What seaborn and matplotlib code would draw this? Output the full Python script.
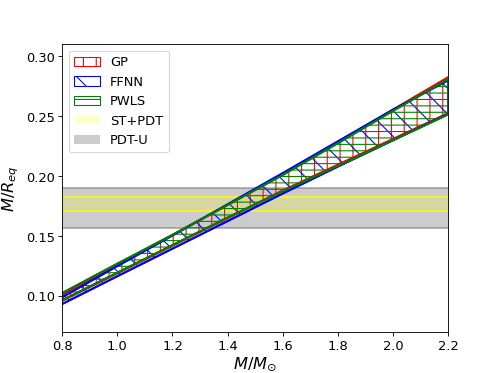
import numpy as np
import pandas as pd
import matplotlib
matplotlib.use("Agg")
import matplotlib.pyplot as plt
import seaborn as sns
from matplotlib.patches import Patch

masses = [0.8, 1.0, 1.2, 1.4, 1.6, 1.8, 2.0, 2.2]

gp_lower = [0.0960, 0.1190, 0.1420, 0.1650, 0.1880, 0.2095, 0.2310, 0.2525]
gp_upper = [0.1010, 0.1260, 0.1510, 0.1760, 0.2015, 0.2280, 0.2555, 0.2825]

ffnn_lower = [0.0933, 0.1165, 0.1395, 0.1625, 0.1855, 0.2080, 0.2300, 0.2520]
ffnn_upper = [0.0990, 0.1250, 0.1505, 0.1765, 0.2025, 0.2290, 0.2555, 0.2800]

pwls_lower = [0.0965, 0.1195, 0.1425, 0.1655, 0.1875, 0.2085, 0.2300, 0.2515]
pwls_upper = [0.1025, 0.1270, 0.1510, 0.1760, 0.2010, 0.2275, 0.2545, 0.2810]

st_pdt = [0.1710, 0.1830]
pdt_u = [0.1570, 0.1905]

models = ["GP", "FFNN", "PWLS"]
colors = ["red", "blue", "green"]
hatches = ["|", "\\", "--"]
lowers = [gp_lower, ffnn_lower, pwls_lower]
uppers = [gp_upper, ffnn_upper, pwls_upper]

fig, ax = plt.subplots(figsize=(6.4, 4.8), dpi=77.8)

# horizontal bands
ax.axhspan(pdt_u[0], pdt_u[1], color="gray", alpha=0.4, lw=0, zorder=1)
for v in pdt_u:
    ax.axhline(v, color="gray", alpha=0.7, lw=1.5, zorder=1.1)
ax.axhspan(st_pdt[0], st_pdt[1], color="yellow", alpha=0.2, lw=0, zorder=1.2)
for v in st_pdt:
    ax.axhline(v, color="yellow", alpha=0.85, lw=1.5, zorder=1.3)

handles = []
for name, c, h, lo, up in zip(models, colors, hatches, lowers, uppers):
    df = pd.DataFrame({"M": masses + masses,
                       "C": lo + up,
                       "edge": ["lo"] * len(masses) + ["up"] * len(masses)})
    ax.fill_between(masses, lo, up, facecolor="none", edgecolor=c,
                    hatch=h, lw=1.5, zorder=2)
    sns.lineplot(data=df, x="M", y="C", units="edge", estimator=None,
                 color=c, lw=2, ax=ax, legend=False, zorder=2.1)
    handles.append(Patch(facecolor="none", edgecolor=c, hatch=h, label=name))

handles.append(Patch(facecolor="yellow", alpha=0.2, edgecolor="none", label="ST+PDT"))
handles.append(Patch(facecolor="gray", alpha=0.4, edgecolor="none", label="PDT-U"))

ax.set_xlim(0.8, 2.2)
ax.set_ylim(0.07, 0.31)
ax.set_xticks([0.8, 1.0, 1.2, 1.4, 1.6, 1.8, 2.0, 2.2])
ax.set_yticks([0.10, 0.15, 0.20, 0.25, 0.30])
ax.tick_params(labelsize=12)
ax.set_xlabel(r"$M/M_{\odot}$", fontsize=15, labelpad=2)
ax.set_ylabel(r"$M/R_{eq}$", fontsize=15)
ax.legend(handles=handles, loc="upper left", fontsize=12)

fig.savefig("out.png", dpi=77.8)
